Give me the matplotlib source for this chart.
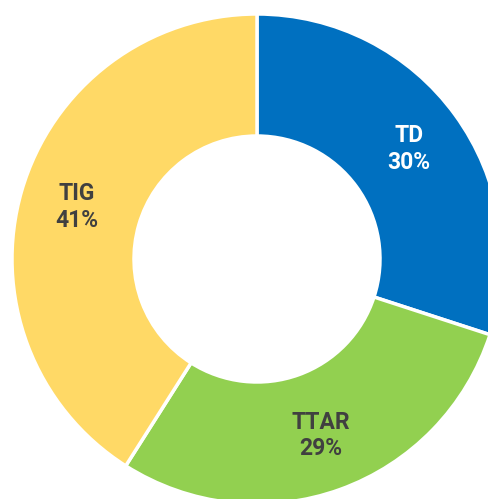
import matplotlib.pyplot as plt
from matplotlib import font_manager

names = ["TD", "TTAR", "TIG"]
shares = [30, 29, 41]
colors = ["#0070C0", "#92D050", "#FFD966"]
text_colors = ["white", "#404040", "#404040"]

fams = {f.name for f in font_manager.fontManager.ttflist}
font = "Liberation Sans Narrow" if "Liberation Sans Narrow" in fams else "Roboto"

W, H = 489, 499
fig = plt.figure(figsize=(W / 100, H / 100), dpi=100)
ax = fig.add_axes([0, 0, 1, 1])

R = 245
labels = [f"{n}\n{s}%" for n, s in zip(names, shares)]
wedges, texts = ax.pie(shares, colors=colors, labels=labels, startangle=90,
                       counterclock=False, radius=R, center=(257, H - 259),
                       labeldistance=0.765, frame=True,
                       wedgeprops=dict(width=R - 123, edgecolor="white", linewidth=2.5),
                       textprops=dict(fontsize=16.5, fontweight="bold", family=font,
                                      ha="center", va="center", linespacing=1.2))
for t, c in zip(texts, text_colors):
    t.set_color(c)
ax.set_xlim(0, W)
ax.set_ylim(0, H)
ax.axis("off")

fig.savefig("out.png", dpi=100)
